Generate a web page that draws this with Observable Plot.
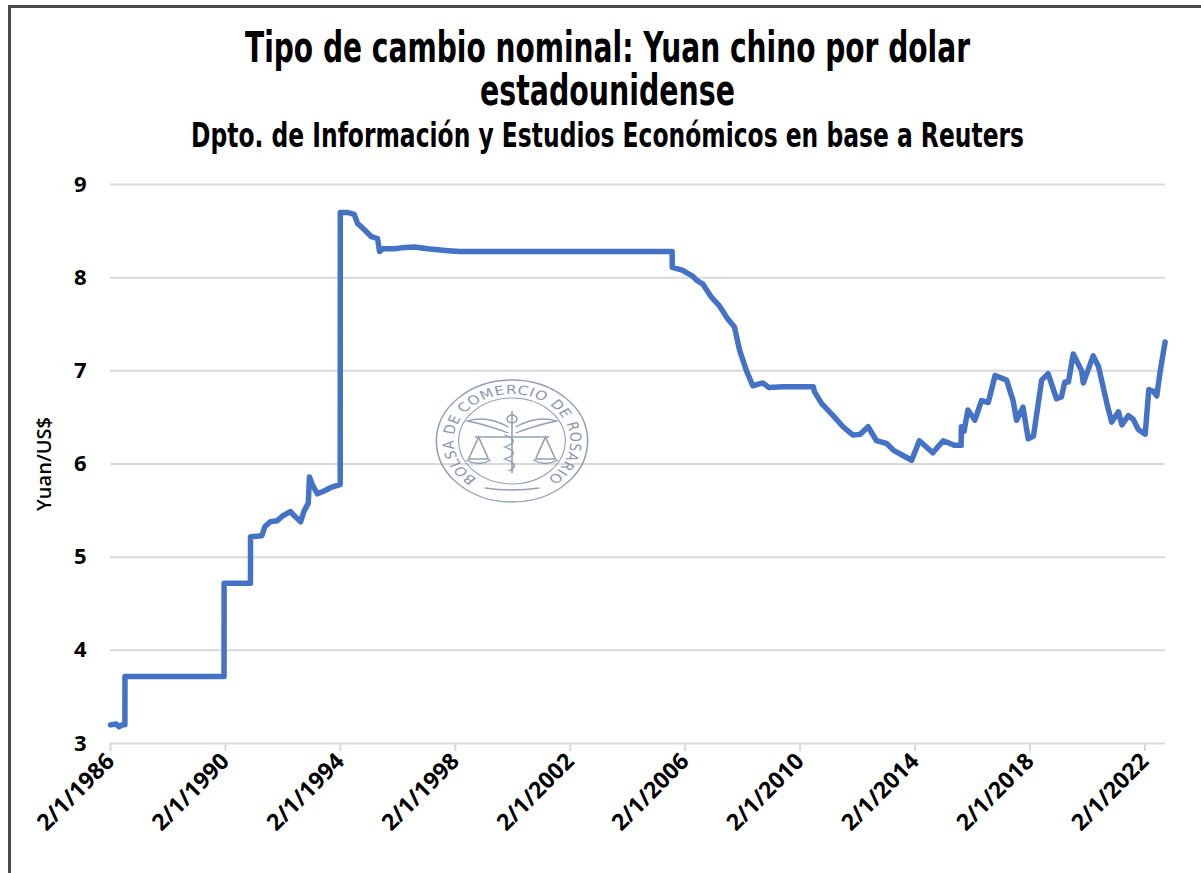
<!DOCTYPE html>
<html>
<head>
<meta charset="utf-8">
<script src="https://cdn.jsdelivr.net/npm/d3@7"></script>
<script src="https://cdn.jsdelivr.net/npm/@observablehq/plot@0.6"></script>
<style>
  html, body { margin: 0; padding: 0; background: #fff; overflow: hidden; width: 1201px; height: 873px; }
  #wrap { position: relative; width: 1201px; height: 873px; background: #fff; overflow: hidden; }
  #wrap > svg, #wrap > .overlay { position: absolute; left: 0; top: 0; }
  .overlay { pointer-events: none; }
  .bar { position: absolute; background: #4a4a4a; }
  #cover { position: absolute; left: 1185px; top: 8px; width: 16px; height: 865px; background: #fff; z-index: 10; }
</style>
</head>
<body>
<div id="wrap"></div>
<script>
// ---- data ----
const dates = [
  "1986-01-02","1986-03-15","1986-04-20","1986-06-01","1986-07-04","1986-07-05",
  "1989-12-15","1989-12-16","1990-11-16","1990-11-17",
  "1991-04-10","1991-05-20","1991-07-25","1991-10-20","1991-12-25",
  "1992-04-05","1992-05-20","1992-08-15","1992-09-25","1992-11-20","1992-12-05",
  "1993-01-10","1993-03-15","1993-06-10","1993-09-05","1993-12-31",
  "1994-01-01","1994-04-01","1994-06-25","1994-08-10","1994-10-15","1994-12-15",
  "1995-02-01","1995-04-20","1995-05-15","1995-06-25","1995-11-25",
  "1996-02-15","1996-08-01","1997-01-15","1997-10-01","1998-03-01",
  "2005-07-20","2005-07-21","2005-11-25","2006-04-01","2006-06-01","2006-08-15","2006-12-01",
  "2007-03-10","2007-06-25","2007-09-20","2007-11-25","2008-02-20","2008-05-10",
  "2008-09-15","2008-12-01","2009-06-01","2010-01-01","2010-06-18","2010-07-01","2010-10-01",
  "2011-02-25","2011-07-01","2011-11-05","2012-02-05","2012-05-15","2012-08-30",
  "2013-01-05","2013-03-30","2013-09-15","2013-11-20",
  "2014-02-25","2014-08-15","2014-12-25","2015-05-20","2015-08-10","2015-08-13",
  "2015-09-15","2015-11-05","2016-02-01","2016-04-25","2016-07-20","2016-10-15",
  "2017-03-10","2017-06-01","2017-07-15","2017-10-05","2017-12-10",
  "2018-02-15","2018-05-30","2018-08-20","2018-12-05",
  "2019-02-05","2019-03-20","2019-05-05","2019-07-05","2019-10-20","2019-11-10",
  "2020-03-15","2020-05-20","2020-09-05","2020-11-05",
  "2021-01-30","2021-03-15","2021-06-05","2021-08-05","2021-10-10",
  "2022-01-05","2022-02-20","2022-04-20","2022-06-01","2022-07-15","2022-09-15"
];
const yuanPerUsd = [
  3.20,3.21,3.18,3.20,3.20,3.72,
  3.72,4.72,4.72,5.22,
  5.23,5.33,5.38,5.39,5.44,
  5.49,5.45,5.38,5.49,5.58,5.86,
  5.78,5.68,5.71,5.75,5.78,
  8.70,8.70,8.68,8.58,8.53,8.48,
  8.44,8.42,8.28,8.31,8.31,
  8.32,8.33,8.31,8.29,8.28,
  8.28,8.11,8.08,8.02,7.97,7.93,7.79,
  7.70,7.56,7.47,7.22,7.00,6.84,
  6.87,6.82,6.83,6.83,6.83,6.78,6.65,
  6.52,6.40,6.31,6.32,6.40,6.25,
  6.22,6.15,6.07,6.04,
  6.25,6.12,6.25,6.20,6.20,6.40,
  6.35,6.58,6.47,6.68,6.66,6.95,
  6.90,6.68,6.47,6.61,6.27,
  6.30,6.90,6.97,6.70,
  6.72,6.88,6.88,7.18,7.00,6.87,
  7.16,7.05,6.65,6.45,
  6.56,6.42,6.52,6.48,6.37,
  6.32,6.80,6.78,6.73,7.00,7.31
];
const xTickDates = ["1986-01-02","1990-01-02","1994-01-02","1998-01-02","2002-01-02",
                    "2006-01-02","2010-01-02","2014-01-02","2018-01-02","2022-01-02"];
const yTicks = [3, 4, 5, 6, 7, 8, 9];
const xDomain = ["1986-01-02", "2022-09-20"];

const titleLine1 = "Tipo de cambio nominal: Yuan chino por dolar";
const titleLine2 = "estadounidense";
const subtitle = "Dpto. de Información y Estudios Económicos en base a Reuters";
const yLabel = "Yuan/US$";
const watermarkText = "BOLSA DE COMERCIO DE ROSARIO";

// ---- build ----
const data = dates.map((d, i) => ({date: new Date(d), value: yuanPerUsd[i]}));
const fmt = d => `${d.getUTCDate()}/${d.getUTCMonth() + 1}/${d.getUTCFullYear()}`;

const wrap = document.getElementById("wrap");

const chart = Plot.plot({
  width: 1201,
  height: 873,
  marginTop: 184,
  marginLeft: 110,
  marginRight: 36,
  marginBottom: 130,
  style: {fontFamily: "'Open Sans', sans-serif", color: "#000", background: "transparent"},
  x: {type: "utc", domain: xDomain.map(d => new Date(d))},
  y: {domain: [3, 9]},
  marks: [
    Plot.gridY(yTicks, {stroke: "#d9d9d9", strokeOpacity: 1, strokeWidth: 2}),
    Plot.axisY(yTicks, {tickSize: 0, tickPadding: 24, fontSize: 22, fontWeight: "bold",
      tickFormat: d => String(d),
      label: yLabel, labelAnchor: "center", labelArrow: "none", labelOffset: 74}),
    Plot.axisX(xTickDates.map(d => new Date(d)), {tickSize: 8, stroke: "#d9d9d9", strokeWidth: 2,
      tickRotate: -45, tickFormat: fmt, fontSize: 23, fontWeight: "bold", tickPadding: 6, label: null}),
    Plot.line(data, {x: "date", y: "value", stroke: "#4472C4", strokeWidth: 5.5,
      strokeLinejoin: "round", strokeLinecap: "round"})
  ]
});
wrap.appendChild(chart);

// axis label styling
d3.select(chart).selectAll('[aria-label="y-axis label"] text')
  .attr("font-weight", "600").attr("font-size", 20);

// frame (top and left edges only)
[["8px", "5px", "1193px", "3px"], ["8px", "5px", "3px", "868px"]].forEach(([l, t, w, h]) => {
  const b = document.createElement("div");
  b.className = "bar";
  Object.assign(b.style, {left: l, top: t, width: w, height: h});
  wrap.appendChild(b);
});

// titles + watermark overlay
const ov = d3.select(wrap).append("svg").attr("class", "overlay")
  .attr("width", 1201).attr("height", 873);

const tfont = "'Liberation Sans Narrow', 'DejaVu Sans Condensed', 'Roboto', sans-serif";
[[titleLine1, 62, 43, 725], [titleLine2, 105, 43, 255], [subtitle, 147, 33, 833]].forEach(([t, y, fs, len]) => {
  ov.append("text").attr("x", 607.5).attr("y", y).attr("text-anchor", "middle")
    .attr("font-family", tfont).attr("font-weight", "bold").attr("font-size", fs)
    .attr("textLength", len).attr("lengthAdjust", "spacingAndGlyphs").attr("fill", "#000").text(t);
});

// watermark (decorative logo)
const wm = ov.append("g").attr("transform", "translate(512,441) scale(1.24,1)")
  .attr("fill", "none").attr("stroke", "#8190ad").attr("stroke-width", 1.3).attr("opacity", 0.85);
wm.append("circle").attr("r", 61);
wm.append("circle").attr("r", 43).attr("stroke-width", 0.9);
const r = 47, a = 32 * Math.PI / 180;
ov.append("defs").append("path").attr("id", "wmArc")
  .attr("d", `M ${-r * Math.sin(a)} ${r * Math.cos(a)} A ${r} ${r} 0 1 1 ${r * Math.sin(a)} ${r * Math.cos(a)}`);
wm.append("text").attr("stroke", "none").attr("fill", "#7585a6")
  .attr("font-family", "'DejaVu Sans', sans-serif").attr("font-size", 12.5).attr("letter-spacing", 0.6)
  .append("textPath").attr("href", "#wmArc").attr("startOffset", "50%").attr("text-anchor", "middle")
  .text(watermarkText);
// emblem: scales + caduceus
wm.append("line").attr("x1", -30).attr("y1", -4).attr("x2", 30).attr("y2", -4);
wm.append("line").attr("x1", 0).attr("y1", -30).attr("x2", 0).attr("y2", 32);
wm.append("path").attr("d", "M -27 -4 L -35 18 L -19 18 Z M 27 -4 L 35 18 L 19 18 Z");
wm.append("path").attr("d", "M -37 19 Q -27 26 -17 19 M 37 19 Q 27 26 17 19");
wm.append("path").attr("d", "M -3 -14 Q -20 -26 -36 -20 Q -20 -16 -3 -8 M 3 -14 Q 20 -26 36 -20 Q 20 -16 3 -8");
wm.append("path").attr("d", "M -6 -6 Q 8 0 -6 6 Q 8 12 -6 18 Q 8 24 -3 30");
wm.append("circle").attr("cx", 0).attr("cy", -22).attr("r", 4);
wm.append("path").attr("d", "M -22 47 Q 0 51 22 47").attr("stroke-width", 1.6);

// white cover on the far right edge (on top)
const cover = document.createElement("div");
cover.id = "cover";
wrap.appendChild(cover);
</script>
</body>
</html>
